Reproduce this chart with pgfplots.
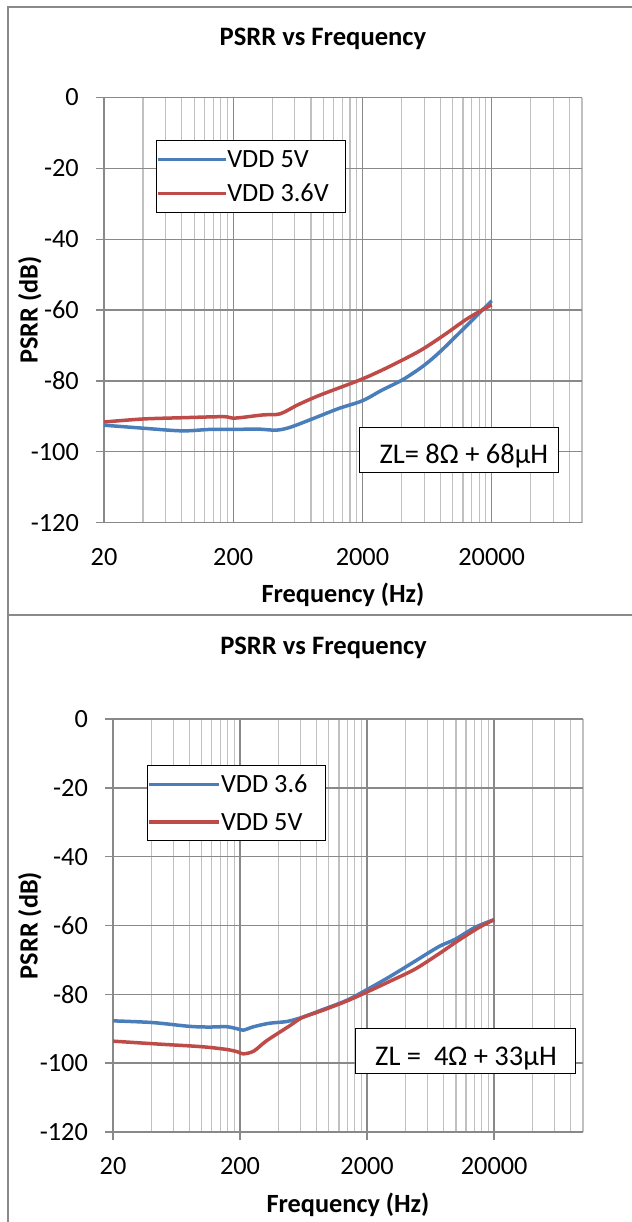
\documentclass[border=0pt]{standalone}
\usepackage{pgfplots}
\pgfplotsset{compat=1.18}
\usepackage{fontspec}
\setmainfont{Carlito}
\definecolor{bl}{HTML}{4A7EBB}
\definecolor{rd}{HTML}{BE4B48}
\definecolor{gmaj}{HTML}{898989}
\definecolor{gmin}{HTML}{C0C0C0}
\definecolor{framec}{HTML}{8A8A8A}
\newcommand{\lblfont}{\bfseries\fontsize{26.3bp}{31.6bp}\selectfont}
\pgfplotsset{
  psrr/.style={
    scale only axis,
    xmin=20, xmax=100000, ymin=-120, ymax=0,
    xtick={20,200,2000,20000}, xticklabels={20,200,2000,20000},
    minor xtick={40,60,80,100,120,140,160,180,400,600,800,1000,1200,1400,1600,1800,4000,6000,8000,10000,12000,14000,16000,18000,40000,60000,80000,100000},
    ytick={-120,-100,-80,-60,-40,-20,0}, yticklabels={-120,-100,-80,-60,-40,-20,0},
    grid=both,
    major grid style={gmaj, line width=1.4bp},
    minor grid style={gmin, line width=1.2bp},
    axis line style={draw=none},
    tick align=outside, xtick pos=left, ytick pos=left,
    major tick length=8bp, minor tick length=0bp,
    tick style={gmaj, line width=1.4bp},
    minor tick style={draw=none},
    /pgf/number format/assume math mode=true,
    yticklabel style={anchor=east, inner sep=0pt, xshift=-17bp},
    xticklabel style={anchor=base, inner sep=0pt, yshift=-34.4bp},
    title={PSRR vs Frequency},
    xlabel={Frequency (Hz)}, ylabel={PSRR (dB)},
    legend cell align=left,
    every axis plot/.append style={line width=3.5bp, smooth, tension=0.5},
  }
}
\begin{document}
\begin{tikzpicture}[font=\fontsize{26.3bp}{31.6bp}\selectfont]
\useasboundingbox (0,0) rectangle (632bp,-1222bp);
% ---------------- top chart ----------------
\begin{semilogxaxis}[psrr,
  at={(104bp,-522.6bp)}, anchor=south west, width=478bp, height=425.1bp,
  xtick style={draw=none},
  title style={at={(axis description cs:0.458,1.1075)}, anchor=base, inner sep=0pt, font=\bfseries\fontsize{26.6bp}{32bp}\selectfont},
  xlabel style={at={(axis description cs:0.5,-0.189)}, anchor=base, inner sep=0pt, font=\lblfont},
  ylabel style={at={(axis description cs:-0.139,0.5)}, anchor=base, inner sep=0pt, font=\lblfont},
  legend style={at={(axis description cs:0.1082,0.9)}, anchor=north west, draw=black, line width=1bp,
    inner xsep=0pt, inner ysep=1.85bp, fill=white,
    nodes={inner sep=0pt, text height=25.4bp, text depth=8.6bp}},
  legend image code/.code={\draw[#1] (9.3bp,0bp) -- (63.6bp,0bp); \path (0bp,0bp) -- (67.6bp,0bp);},
]
\addplot[bl] coordinates {
(20,-92.5) (38.6,-93.3) (80,-94.1) (131,-93.7) (200,-93.7) (310,-93.6) (430,-93.9) (551,-93.1)
(835,-90.6) (1307,-87.8) (2000,-85.6) (2800,-82.7) (4124,-79.6) (5904,-75.8) (7900,-71.9)
(12100,-65.3) (20000,-57.4)};
\addplot[rd] coordinates {
(20,-91.6) (40,-90.75) (79.4,-90.4) (167,-90.1) (206,-90.5) (340,-89.6) (460,-89.3)
(637,-86.7) (940,-84.0) (1920,-79.7) (3090,-76.3) (5500,-71.6) (8450,-67.2) (13000,-62.4) (20000,-58.5)};
\legend{\makebox[117.7bp][l]{VDD 5V},\makebox[117.7bp][l]{VDD 3.6V}}
\end{semilogxaxis}
% ---------------- bottom chart ----------------
\begin{semilogxaxis}[psrr,
  at={(113bp,-1132bp)}, anchor=south west, width=470bp, height=413bp,
  title style={at={(axis description cs:0.4479,1.1412)}, anchor=base, inner sep=0pt, font=\bfseries\fontsize{26.6bp}{32bp}\selectfont},
  xlabel style={at={(axis description cs:0.5,-0.196)}, anchor=base, inner sep=0pt, font=\lblfont},
  ylabel style={at={(axis description cs:-0.1606,0.5)}, anchor=base, inner sep=0pt, font=\lblfont},
  legend style={at={(axis description cs:0.0728,0.888)}, anchor=north west, draw=black, line width=1bp,
    inner xsep=0pt, inner ysep=0bp, fill=white,
    nodes={inner sep=0pt, text height=27.15bp, text depth=10.35bp}},
  legend image code/.code={\draw[#1] (11.3bp,0bp) -- (64.5bp,0bp); \path (0bp,0bp) -- (69.8bp,0bp);},
]
\addplot[bl] coordinates {
(20,-87.7) (41,-88.2) (80,-89.3) (115,-89.5) (156,-89.4) (190,-90.0) (212,-90.4) (256,-89.4)
(340,-88.4) (465,-87.9) (614,-86.7) (885,-84.5) (1371,-81.8) (2000,-78.6) (3064,-74.7)
(4750,-70.4) (7360,-66.1) (9860,-64.0) (14200,-60.5) (20000,-58.3)};
\addplot[rd] coordinates {
(20,-93.6) (48,-94.5) (99,-95.2) (156,-96.0) (191,-96.7) (212,-97.3) (256,-96.5) (323,-93.5)
(493,-89.1) (614,-86.8) (885,-84.7) (1371,-82.0) (2000,-79.3) (3064,-76.1) (4750,-72.7) (7360,-68.2)
(10600,-64.2) (15300,-60.5) (20000,-58.3)};
\legend{\makebox[104.4bp][l]{VDD 3.6},\makebox[104.4bp][l]{VDD 5V}}
\end{semilogxaxis}
% annotation boxes
\draw[black, line width=1bp, fill=white] (359.3bp,-427bp) rectangle (558.3bp,-472.7bp);
\node[anchor=base west, inner sep=0pt, font=\fontsize{28.5bp}{34bp}\selectfont] at (379.3bp,-463.3bp) {ZL= 8Ω + 68µH};
\draw[black, line width=1bp, fill=white] (355.6bp,-1028bp) rectangle (575bp,-1073.7bp);
\node[anchor=base west, inner sep=0pt, font=\fontsize{28.5bp}{34bp}\selectfont] at (375bp,-1065.9bp) {ZL =\ \ 4Ω + 33µH};
% chart frames
\draw[framec, line width=1.3bp] (640bp,-7bp) -- (8bp,-7bp) -- (8bp,-1230bp);
\draw[framec, line width=1.3bp] (8bp,-615bp) -- (640bp,-615bp);
\end{tikzpicture}
\end{document}
